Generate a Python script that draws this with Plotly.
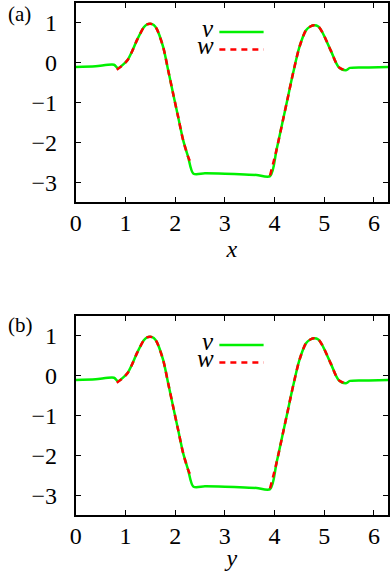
import math
import plotly.graph_objects as go

# ---- data ----
x_v = [0.0, 0.4, 0.77, 0.85, 0.94, 1.04, 1.14, 1.23, 1.37, 1.43, 1.5, 1.57, 1.63, 1.76, 1.86, 1.96,
       2.06, 2.16, 2.26, 2.37, 2.6, 3.0, 3.4, 3.64, 3.91, 4.04, 4.17, 4.27, 4.37, 4.5,
       4.63, 4.72, 4.8, 4.88, 4.96, 5.13, 5.29, 5.43, 5.52, 5.9, 2 * math.pi]
v_vals = [-0.11, -0.09, -0.05, -0.14, -0.06, 0.06, 0.30, 0.56, 0.89, 0.96, 0.98, 0.95, 0.85, 0.39, -0.19, -0.78,
          -1.36, -1.94, -2.36, -2.79, -2.78, -2.79, -2.81, -2.82, -2.85, -2.19, -1.44, -0.86, -0.28, 0.39,
          0.81, 0.91, 0.94, 0.91, 0.77, 0.31, -0.11, -0.19, -0.13, -0.12, -0.11]

x_w = [0.825, 0.94, 1.04, 1.14, 1.23, 1.37, 1.43, 1.5, 1.57, 1.63, 1.76, 1.86, 1.96, 2.06, 2.16, 2.26, 2.3,
       None,
       3.91, 4.04, 4.17, 4.27, 4.37, 4.5, 4.63, 4.72, 4.8, 4.88, 4.96, 5.13, 5.29, 5.43]
w_vals = [-0.18, -0.07, 0.06, 0.30, 0.56, 0.89, 0.96, 0.98, 0.95, 0.85, 0.39, -0.19, -0.78, -1.36, -1.94, -2.36, -2.48,
          None,
          -2.83, -2.19, -1.44, -0.86, -0.28, 0.39, 0.81, 0.91, 0.94, 0.91, 0.77, 0.31, -0.11, -0.19]

x_ticks = [0, 1, 2, 3, 4, 5, 6]
y_ticks = [-3, -2, -1, 0, 1]
panel_labels = ["(a)", "(b)"]
axis_titles = ["x", "y"]
legend_names = ["v", "w"]

GREEN = "#00f000"
RED = "#ff0000"
FONT = "Liberation Serif, DejaVu Serif, serif"

W, H = 390, 571
xdom = [71 / W, 389 / W]
ydoms = [[1 - 202 / H, 1 - 3 / H], [1 - 515 / H, 1 - 316 / H]]

fig = go.Figure()
annotations = []
shapes = []

for i in range(2):
    sfx = "" if i == 0 else str(i + 1)
    xa, ya = "x" + sfx, "y" + sfx
    fig.add_trace(go.Scatter(x=x_v, y=v_vals, mode="lines", xaxis=xa, yaxis=ya,
                             line=dict(color=GREEN, width=2.5, shape="spline", smoothing=0.8),
                             showlegend=False))
    fig.add_trace(go.Scatter(x=x_w, y=w_vals, mode="lines", xaxis=xa, yaxis=ya,
                             line=dict(color=RED, width=2.5, dash="6px,5px", shape="spline", smoothing=0.8),
                             connectgaps=False, showlegend=False))

    common = dict(showline=True, linecolor="black", linewidth=2, mirror="allticks",
                  ticks="inside", ticklen=5, tickwidth=1, tickcolor="black",
                  showgrid=False, zeroline=False)
    fig.layout["xaxis" + sfx] = dict(domain=xdom, range=[0, 2 * math.pi], tickvals=x_ticks,
                                     anchor=ya, ticklabelstandoff=-2, **common)
    fig.layout["yaxis" + sfx] = dict(domain=ydoms[i], range=[-3.5, 1.5], tickvals=y_ticks,
                                     anchor=xa, ticklabelstandoff=12, **common)

    # panel label
    annotations.append(dict(text=panel_labels[i], xref="paper", yref="paper",
                            x=0, xanchor="left",
                            y=(1 - 14 / H) if i == 0 else (1 - 325 / H), yanchor="middle",
                            showarrow=False, font=dict(family=FONT, size=21, color="black")))
    # legend
    for name, yv, col, dash in [(legend_names[0], 0.77, GREEN, "solid"),
                                (legend_names[1], 0.33, RED, "6px,5px")]:
        annotations.append(dict(text="<i>%s</i>" % name, xref=xa, yref=ya, x=2.82, xanchor="right",
                                y=yv + 0.1, yanchor="middle", height=17, valign="middle",
                                showarrow=False,
                                font=dict(family=FONT, size=25, color="black")))
        shapes.append(dict(type="line", xref=xa, yref=ya, x0=2.89, x1=3.78, y0=yv, y1=yv,
                           line=dict(color=col, width=2.5, dash=dash)))

fig.update_xaxes(tickfont=dict(family=FONT, size=24, color="black"))
fig.update_yaxes(tickfont=dict(family=FONT, size=24, color="black"))
fig.update_layout(xaxis_title=dict(text="<i>%s</i>" % axis_titles[0], standoff=0,
                                   font=dict(family=FONT, size=24, color="black")),
                  xaxis2_title=dict(text="<i>%s</i>" % axis_titles[1], standoff=0,
                                    font=dict(family=FONT, size=24, color="black")))
fig.update_layout(width=W, height=H, margin=dict(l=0, r=0, t=0, b=0),
                  paper_bgcolor="white", plot_bgcolor="white",
                  font=dict(family=FONT, color="black"),
                  annotations=annotations, shapes=shapes, showlegend=False)

fig.write_html("out.html")
